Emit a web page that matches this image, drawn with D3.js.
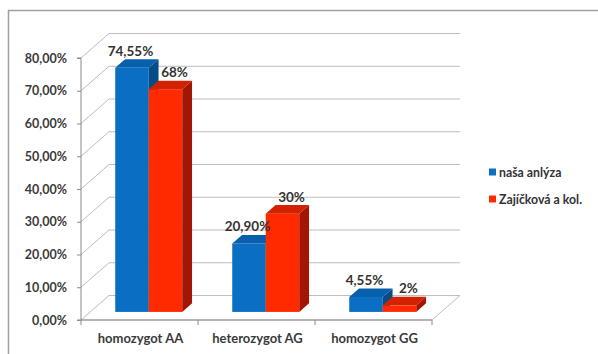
<!DOCTYPE html>
<html>
<head>
<meta charset="utf-8">
<script src="https://cdn.jsdelivr.net/npm/d3@7"></script>
<style>
  html, body { margin: 0; padding: 0; background: #fff; }
  svg { display: block; font-family: Lato, "Liberation Sans", sans-serif; }
</style>
</head>
<body>
<svg id="chart" width="598" height="354"></svg>
<script>
// Genotype frequencies: own analysis vs. Zajíčková et al.
const categories = ["homozygot AA", "heterozygot AG", "homozygot GG"];
const seriesNames = ["naša anlýza", "Zajíčková a kol."];
const nasaAnalyza = [74.55, 20.90, 4.55];
const zajickova = [68, 30, 2];
const yTicks = [0, 10, 20, 30, 40, 50, 60, 70, 80];

const seriesValues = [nasaAnalyza, zajickova];
const seriesFormats = [",.2f", "d"];
const colors = [
  { front: "#0a6fc3", side: "#064d88", top: "#0860ad" },
  { front: "#ff2a00", side: "#a31505", top: "#d22200" }
];

const locale = d3.formatLocale({ decimal: ",", thousands: " ", grouping: [3], currency: ["", " €"] });
const pct2 = locale.format(",.2f");

const svg = d3.select("#chart");

// outer frame
svg.append("path")
  .attr("d", "M8.5,360 V10.5 H604")
  .attr("fill", "none").attr("stroke", "#a0a0a0").attr("stroke-width", 1.5);

// plot geometry (front plane of the 3D box, plus its depth offset)
const x0 = 81, x1 = 432, yBase = 320, yTop = 58;
const DX = 28, DY = -24.5;
const f1 = 0.33, f2 = 0.68; // depth slice occupied by the columns

const xCat = d3.scaleBand().domain(categories).range([x0, x1]);
const xSer = d3.scaleBand().domain(seriesNames).range([0, xCat.bandwidth()]).paddingOuter(0.746);
const y = d3.scaleLinear().domain([0, 80]).range([yBase, yTop]);

const grid = svg.append("g").attr("stroke", "#bdbdbd").attr("stroke-width", 1).attr("fill", "none");
// back-wall and side-wall gridlines
yTicks.forEach(t => {
  const yy = y(t);
  grid.append("path")
    .attr("d", `M${x0},${yy} L${x0 + DX},${yy + DY} H${x1 + DX}`);
});
// floor outline
grid.append("path")
  .attr("d", `M${x0},${yBase} H${x1} L${x1 + DX},${yBase + DY}`);

// y axis
const yAxis = d3.axisLeft(y).tickValues(yTicks).tickSize(4).tickPadding(10)
  .tickFormat(d => pct2(d) + "%");
const gy = svg.append("g").attr("transform", `translate(${x0},0)`).call(yAxis);
gy.select(".domain").attr("stroke", "#8a8a8a").attr("d", `M-4,${yTop}H0V${yBase}H-4`);
gy.selectAll(".tick line").attr("stroke", "#8a8a8a");
gy.selectAll(".tick text").attr("fill", "#3a3a3a").style("font-size", "12.5px").style("font-weight", "bold")
  .style("font-family", "Lato, sans-serif");

// x axis: ticks at category boundaries, labels centred
const bounds = categories.map(c => xCat(c)).concat([x1]);
const gx = svg.append("g");
gx.append("path").attr("d", `M${x0},${yBase}H${x1}`).attr("stroke", "#8a8a8a");
gx.selectAll("line.tk").data(bounds).join("line")
  .attr("x1", d => d).attr("x2", d => d).attr("y1", yBase).attr("y2", yBase + 5)
  .attr("stroke", "#8a8a8a");
gx.selectAll("text").data(categories).join("text")
  .attr("x", d => xCat(d) + xCat.bandwidth() / 2 + 1)
  .attr("y", 343)
  .attr("text-anchor", "middle")
  .attr("fill", "#3a3a3a").style("font-size", "13px").style("font-weight", "bold")
  .text(d => d);

// 3D columns
const ddx = DX * (f2 - f1), ddy = DY * (f2 - f1);
const offX = DX * f1, offY = DY * f1;
const bars = svg.append("g");
const labels = svg.append("g");
categories.forEach((c, ci) => {
  seriesNames.forEach((s, si) => {
    const v = seriesValues[si][ci];
    const col = colors[si];
    const bx0 = xCat(c) + xSer(s) + offX;
    const bx1 = bx0 + xSer.bandwidth();
    const by0 = y(0) + offY;
    const by1 = y(v) + offY;
    const g = bars.append("g");
    g.append("rect").attr("x", bx0).attr("y", by1).attr("width", bx1 - bx0).attr("height", by0 - by1)
      .attr("fill", col.front);
    g.append("path")
      .attr("d", `M${bx1},${by0} V${by1} L${bx1 + ddx},${by1 + ddy} V${by0 + ddy} Z`)
      .attr("fill", col.side);
    g.append("path")
      .attr("d", `M${bx0},${by1} H${bx1} L${bx1 + ddx},${by1 + ddy} H${bx0 + ddx} Z`)
      .attr("fill", col.top);
    const lx = (bx0 + bx1) / 2 + (si === 0 ? -1.5 : 9);
    labels.append("text")
      .attr("x", lx).attr("y", by1 - 12)
      .attr("text-anchor", "middle")
      .attr("fill", "#333").style("font-size", "13.5px").style("font-weight", "bold")
      .text(locale.format(seriesFormats[si])(v) + "%");
  });
});

// legend
const leg = svg.append("g").attr("transform", "translate(489,172)");
seriesNames.forEach((s, i) => {
  const row = leg.append("g").attr("transform", `translate(0,${i * 27})`);
  row.append("rect").attr("x", 0).attr("y", -3.5).attr("width", 7).attr("height", 7).attr("fill", colors[i].front);
  row.append("text").attr("x", 10).attr("y", 4.5).attr("fill", "#333")
    .style("font-size", "12.3px").style("font-weight", "bold").text(s);
});
</script>
</body>
</html>
